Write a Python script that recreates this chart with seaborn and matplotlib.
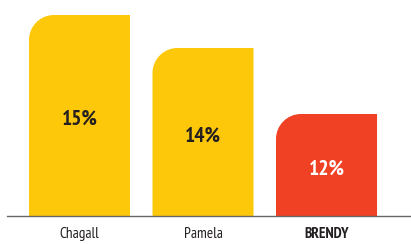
import matplotlib
matplotlib.use("Agg")
import matplotlib.pyplot as plt
import seaborn as sns
import pandas as pd
from matplotlib.path import Path
from matplotlib.patches import PathPatch

categories = ["Chagall", "Pamela", "BRENDY"]
values = [15, 14, 12]
labels = ["15%", "14%", "12%"]
colors = ["#FEC80A", "#FEC80A", "#F04124"]
label_colors = ["#231F20", "#231F20", "#FFFFFF"]

sns.set_style("white")
plt.rcParams["font.family"] = ["PT Sans Narrow", "DejaVu Sans"]

W, H = 411, 244
fig = plt.figure(figsize=(W / 100, H / 100), dpi=100)
ax = fig.add_axes([7 / W, (H - 216) / H, (W - 7) / W, 216 / H])

df = pd.DataFrame({"cat": categories, "val": values})
sns.barplot(data=df, x="cat", y="val", hue="cat", palette=colors, legend=False,
            width=0.818, ax=ax, saturation=1)

ymin = 8.909
ymax = ymin + 216 / 33.0
ax.set_ylim(ymin, ymax)
ax.set_xlim(-0.587, 2.684)

# pixel -> data scale
xpx = (W - 7) / (2.684 + 0.587)
ypx = 216 / (ymax - ymin)
r = 25.0
rx, ry = r / xpx, r / ypx

for p, c in zip(list(ax.patches), colors):
    x0 = p.get_x(); w = p.get_width(); top = p.get_height()
    p.set_visible(False)
    k = 0.5523
    verts = [
        (x0, ymin),
        (x0 + w, ymin),
        (x0 + w, top),
        (x0 + rx, top),
        (x0 + rx - k * rx, top), (x0, top - ry + k * ry), (x0, top - ry),
        (x0, ymin),
    ]
    codes = [Path.MOVETO, Path.LINETO, Path.LINETO, Path.LINETO,
             Path.CURVE4, Path.CURVE4, Path.CURVE4, Path.CLOSEPOLY]
    ax.add_patch(PathPatch(Path(verts, codes), facecolor=c, edgecolor="none", zorder=2))

for i, (v, lab, lc) in enumerate(zip(values, labels, label_colors)):
    ymid = (v + ymin) / 2 - 4 / ypx
    ax.text(i, ymid, lab, ha="center", va="center", color=lc,
            fontsize=15.5, fontweight="bold", zorder=3)

for s in ["top", "right", "left"]:
    ax.spines[s].set_visible(False)
ax.spines["bottom"].set_color("#666666")
ax.spines["bottom"].set_linewidth(1.0)
ax.spines["bottom"].set_zorder(4)
ax.set_yticks([])
ax.set_xlabel(""); ax.set_ylabel("")
ax.tick_params(axis="x", length=0, pad=8, labelsize=11, colors="#231F20")
for t in ax.get_xticklabels():
    if t.get_text() == "BRENDY":
        t.set_fontweight("bold")

fig.savefig("out.png", dpi=100)
